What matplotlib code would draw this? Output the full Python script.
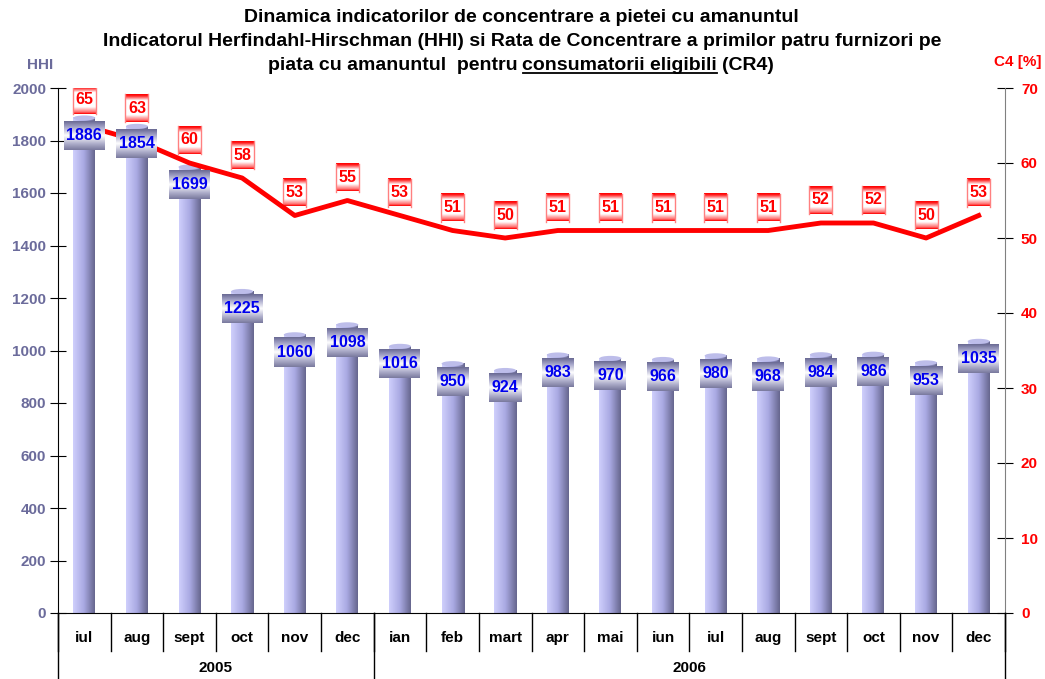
import numpy as np
import matplotlib.pyplot as plt
from matplotlib.patches import Ellipse
from matplotlib.colors import LinearSegmentedColormap
from matplotlib.lines import Line2D

plt.rcParams['font.family'] = ['Liberation Sans', 'DejaVu Sans']

# date
luni = ["iul", "aug", "sept", "oct", "nov", "dec", "ian", "feb", "mart", "apr",
        "mai", "iun", "iul", "aug", "sept", "oct", "nov", "dec"]
ani = ["2005", "2006"]
luni_pe_an = [6, 12]
hhi = [1886, 1854, 1699, 1225, 1060, 1098, 1016, 950, 924, 983,
       970, 966, 980, 968, 984, 986, 953, 1035]
cr4 = [65, 63, 60, 58, 53, 55, 53, 51, 50, 51, 51, 51, 51, 51, 52, 52, 50, 53]

fig = plt.figure(figsize=(10.45, 6.79), dpi=100)
ax = fig.add_axes([58/1045, 1-613/679, (1005-58)/1045, (613-88)/679])
ax2 = ax.twinx()

n = len(hhi)
x = np.arange(n)
px_x = (1005-58) / n      # pixeli pe categorie
px_h = 525 / 2000         # pixeli pe unitate HHI
px_c = 525 / 70           # pixeli pe unitate CR4

ax.set_xlim(-0.5, n-0.5)
ax.set_ylim(0, 2000)
ax2.set_xlim(-0.5, n-0.5)
ax2.set_ylim(0, 70)

grad_h = np.linspace(0, 1, 64).reshape(1, -1)
grad_v = np.linspace(0, 1, 64).reshape(-1, 1)
cm_bar = LinearSegmentedColormap.from_list("b", ["#cfcffc", "#a9a9e2", "#66668e"])
cm_box = LinearSegmentedColormap.from_list("v", [(0, "#6a6a94"), (0.2, "#a4a4c8"),
                                                 (0.5, "#ffffff"), (0.78, "#b0b0cc"),
                                                 (1, "#7a7a9e")])
cm_red = LinearSegmentedColormap.from_list("r", [(0, "#ff0000"), (0.06, "#ff2020"),
                                                 (0.22, "#ffffff"), (0.75, "#ffffff"),
                                                 (0.94, "#ff6a6a"), (1, "#ff0000")])

# linia CR4 si etichetele ei (axa din spate)
ax.plot(x, cr4, color='#ff0000', lw=3.5, zorder=3, transform=ax2.transData)
for xi, v, h in zip(x, cr4, hhi):
    # centrul etichetei: deasupra liniei, dar nu peste caseta HHI
    yc_px = min(613 - v*px_c - 23, 613 - h*px_h - 18)
    yc = (613 - yc_px) / px_c
    w = 23 / px_x
    hh = 28 / px_c
    ax2.imshow(grad_v, cmap=cm_red, aspect='auto', interpolation='bilinear',
               extent=[xi-w/2, xi+w/2, yc-hh/2, yc+hh/2], zorder=5)
    ax2.plot([xi-w/2, xi-w/2], [yc-hh/2, yc+hh/2], color='#ff8080', lw=1, zorder=5)
    ax2.plot([xi+w/2, xi+w/2], [yc-hh/2, yc+hh/2], color='#ff8080', lw=1, zorder=5)
    ax2.text(xi, yc, str(v), ha='center', va='center', color='#ff0000',
             fontsize=11.5, fontweight='bold', zorder=6)

# cilindri cu gradient
bw = 22 / px_x
for xi, v in zip(x, hhi):
    ax.imshow(grad_h, cmap=cm_bar, aspect='auto', interpolation='bilinear',
              extent=[xi-bw/2, xi+bw/2, 0, v], zorder=2)
    ax.add_patch(Ellipse((xi, v), bw, 5/px_h, facecolor="#bdbdea", edgecolor="none", zorder=2))
    # eticheta valorii
    s = str(v)
    bx = (5 + 9*len(s)) / px_x
    top = v - 3/px_h
    bh = 29 / px_h
    ax.imshow(grad_v, cmap=cm_box, aspect='auto', interpolation='bilinear',
              extent=[xi-bx/2, xi+bx/2, top-bh, top], zorder=4)
    ax.text(xi, top-bh/2, s, ha='center', va='center', color='#0000ee',
            fontsize=11.5, fontweight='bold', zorder=5)

ax.set_xlim(-0.5, n-0.5)
ax.set_ylim(0, 2000)
ax2.set_xlim(-0.5, n-0.5)
ax2.set_ylim(0, 70)
ax.set_zorder(2)
ax2.set_zorder(1)
ax.patch.set_visible(False)
ax2.patch.set_visible(False)

# axe
ax.set_yticks(range(0, 2001, 200))
ax.tick_params(axis='y', direction='inout', length=11, labelsize=11,
               labelcolor='#6b6b9b', pad=3)
for t in ax.get_yticklabels():
    t.set_fontweight('bold')
ax2.set_yticks(range(0, 71, 10))
ax2.tick_params(axis='y', direction='inout', length=11, labelsize=11,
                labelcolor='#ff0000', pad=6)
for t in ax2.get_yticklabels():
    t.set_fontweight('bold')
ax.set_xticks([])
ax2.set_xticks([])
for sp in ['top', 'right']:
    ax.spines[sp].set_visible(False)
for sp in ['top', 'left', 'bottom']:
    ax2.spines[sp].set_visible(False)
ax2.spines['right'].set_color('#808080')

# etichete luni si ani
tr = ax.get_xaxis_transform()
for xi, l in zip(x, luni):
    ax.text(xi, -0.047, l, transform=tr, ha='center', va='center',
            fontsize=11, fontweight='bold', clip_on=False)
for b in np.arange(-0.5, n, 1):
    ax.plot([b, b], [0, -0.072], transform=tr, color='black', lw=1, clip_on=False)
start = -0.5
for an, k in zip(ani, luni_pe_an):
    ax.text(start + k/2, -0.105, an, transform=tr, ha='center', va='center',
            fontsize=11, fontweight='bold', clip_on=False)
    start += k
for b in [-0.5, -0.5 + luni_pe_an[0], n - 0.5]:
    ax.plot([b, b], [0, -0.14], transform=tr, color='black', lw=1, clip_on=False)

fig.text(40/1045, 1-65/679, "HHI", ha='center', va='center', color='#6b6b9b',
         fontsize=11, fontweight='bold')
fig.text(1018/1045, 1-62/679, "C4 [%]", ha='center', va='center', color='#ff0000',
         fontsize=11, fontweight='bold')

fs_t = 14
fig.text(521/1045, 1-18/679, "Dinamica indicatorilor de concentrare a pietei cu amanuntul",
         ha='center', va='center', fontsize=fs_t, fontweight='bold')
fig.text(522/1045, 1-42/679,
         "Indicatorul Herfindahl-Hirschman (HHI) si Rata de Concentrare a primilor patru furnizori pe",
         ha='center', va='center', fontsize=fs_t, fontweight='bold')

# al treilea rand, cu partea subliniata
parti = ["piata cu amanuntul  pentru", "consumatorii eligibili", "(CR4)"]
gol = 5  # spatiu intre parti, pixeli
r = fig.canvas.get_renderer()
texte = [fig.text(0, 1-65/679, p, ha='left', va='center', fontsize=fs_t, fontweight='bold')
         for p in parti]
lat = [t.get_window_extent(r).width for t in texte]
x0 = 521 - (sum(lat) + 2*gol) / 2
for t, w in zip(texte, lat):
    t.set_x(x0/1045)
    x0 += w + gol
bb = texte[1].get_window_extent(r)
fig.add_artist(Line2D([bb.x0/1045, bb.x1/1045], [(bb.y0+1)/679]*2, color='black', lw=1.3))

fig.savefig("out.png", dpi=100)
